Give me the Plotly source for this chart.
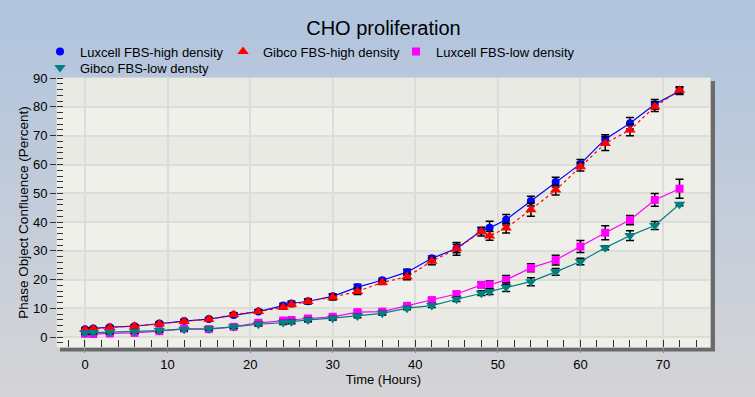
import plotly.graph_objects as go

# ---------------- data ----------------
hours = [0, 1, 3, 6, 9, 12, 15, 18, 21, 24, 25, 27, 30, 33, 36, 39, 42, 45,
         48, 49, 51, 54, 57, 60, 63, 66, 69, 72]

lux_high = [2.8, 3.0, 3.5, 3.8, 4.8, 5.6, 6.3, 7.7, 8.9, 11.0, 11.7, 12.5, 14.2,
            17.4, 19.8, 22.6, 27.4, 30.8, 37.0, 38.0, 40.8, 47.3, 53.9, 60.2,
            68.8, 74.3, 80.9, 85.5]
lux_high_err = [0.4, 0.4, 0.4, 0.4, 0.5, 0.5, 0.5, 0.6, 0.6, 0.7, 0.8, 0.8, 0.8,
                1.0, 0.6, 1.0, 0.8, 1.5, 1.0, 2.3, 1.8, 1.7, 1.7, 1.5, 1.5,
                2.0, 1.7, 1.2]

gib_high = [2.7, 2.9, 3.4, 3.8, 4.6, 5.5, 6.2, 7.9, 8.9, 10.4, 11.4, 12.4, 13.9,
            15.9, 19.0, 21.0, 26.4, 30.7, 36.7, 35.2, 37.9, 44.3, 51.1, 59.2,
            67.3, 72.0, 80.1, 85.8]
gib_high_err = [0.4, 0.4, 0.4, 0.5, 0.5, 0.6, 0.5, 0.6, 0.6, 0.6, 0.7, 0.8, 1.0,
                1.1, 0.7, 1.0, 1.2, 2.2, 1.5, 1.5, 1.7, 2.3, 1.7, 1.5, 2.4,
                2.0, 1.7, 1.2]

lux_low = [1.2, 1.1, 1.3, 1.5, 2.1, 3.0, 2.8, 3.6, 5.0, 5.8, 6.0, 6.5, 7.1,
           8.7, 8.9, 10.9, 12.9, 15.0, 18.2, 18.2, 19.9, 24.1, 26.8, 31.5,
           36.3, 40.7, 47.7, 51.6]
lux_low_err = [0.4, 0.4, 0.4, 0.4, 0.4, 0.4, 0.4, 0.4, 0.5, 0.5, 0.5, 0.5, 0.5,
               0.6, 0.6, 0.6, 0.7, 0.7, 1.0, 1.3, 1.5, 1.4, 1.7, 2.1, 2.4,
               1.6, 2.2, 3.3]

gib_low = [1.5, 1.6, 1.7, 1.9, 2.3, 2.8, 2.9, 3.6, 4.5, 5.1, 5.4, 6.0, 6.6,
           7.4, 8.3, 10.1, 11.0, 13.2, 15.3, 15.8, 17.4, 19.3, 22.7, 26.3,
           31.1, 35.3, 38.8, 46.2]
gib_low_err = [0.5, 0.5, 0.5, 0.5, 0.5, 0.5, 0.5, 0.5, 0.6, 0.7, 0.7, 0.6, 0.6,
               0.6, 0.6, 0.6, 0.7, 0.8, 0.8, 1.0, 1.5, 1.4, 1.2, 1.1, 0.7,
               1.7, 1.4, 0.5]

series_names = ["Luxcell FBS-high density", "Gibco FBS-high density",
                "Luxcell FBS-low density", "Gibco FBS-low densty"]

# ---------------- geometry ----------------
W, H = 755, 397
L, R, T, B = 57, 45, 78, 50
PW, PH = W - L - R, H - T - B


def px2x(px):
    return (px - L) / PW


def px2y(py):
    return (H - B - py) / PH


FONT = "Liberation Sans, Arial, sans-serif"

fig = go.Figure()

styles = [
    dict(color="#0000FF", symbol="circle", size=8, dash="solid"),
    dict(color="#FF0000", symbol="triangle-up", size=10, dash="dot"),
    dict(color="#FF00FF", symbol="square", size=8, dash="solid"),
    dict(color="#008080", symbol="triangle-down", size=10, dash="solid"),
]
values = [lux_high, gib_high, lux_low, gib_low]
errors = [lux_high_err, gib_high_err, lux_low_err, gib_low_err]

for name, st, v, e in zip(series_names, styles, values, errors):
    fig.add_trace(go.Scatter(
        x=hours, y=v, mode="lines+markers", name=name, showlegend=False,
        line=dict(color=st["color"], width=1.2, dash=st["dash"]),
        marker=dict(color=st["color"], symbol=st["symbol"], size=st["size"]),
        error_y=dict(type="data", array=e, visible=True, color="black",
                     thickness=1.5, width=4),
    ))

# legend entries (markers only), each in its own legend for placement
legend_ids = ["legend", "legend2", "legend3", "legend4"]
legend_pos = [(40, 51.5), (223, 51.5), (396, 51.5), (40, 67.5)]
for name, st, lid in zip(series_names, styles, legend_ids):
    fig.add_trace(go.Scatter(
        x=[None], y=[None], mode="markers", name=name, legend=lid,
        marker=dict(color=st["color"], symbol=st["symbol"], size=st["size"]),
    ))

legend_layout = {}
for lid, (lx, ly) in zip(legend_ids, legend_pos):
    legend_layout[lid] = dict(
        x=px2x(lx), y=px2y(ly), xanchor="left", yanchor="middle",
        bgcolor="rgba(0,0,0,0)", borderwidth=0,
        font=dict(family=FONT, size=13, color="black"),
        itemclick=False, itemdoubleclick=False,
    )

# ---------------- background shapes ----------------
shapes = []
# figure gradient
top_c = (176, 196, 222)
bot_c = (212, 212, 214)
NB = 50
for i in range(NB):
    f = i / (NB - 1)
    c = tuple(round(top_c[k] + (bot_c[k] - top_c[k]) * f) for k in range(3))
    py0 = H * i / NB
    py1 = H * (i + 1) / NB + 1
    shapes.append(dict(type="rect", xref="paper", yref="paper",
                       x0=px2x(0), x1=px2x(W), y0=px2y(py1), y1=px2y(py0),
                       fillcolor="rgb(%d,%d,%d)" % c, line=dict(width=0),
                       layer="below"))

# plot area shadow
shapes.append(dict(type="rect", xref="paper", yref="paper",
                   x0=px2x(L + 3), x1=px2x(L + PW + 5), y0=px2y(H - B + 4.5),
                   y1=px2y(T + 3), fillcolor="#6B6B6E", line=dict(width=0),
                   layer="below"))
# plot area base
shapes.append(dict(type="rect", xref="paper", yref="paper",
                   x0=0, x1=1, y0=0, y1=1, fillcolor="#F0F0EB",
                   line=dict(color="#DADAD6", width=1.5), layer="below"))
# alternating bands
band_edges = [-3.4, 0, 10, 20, 30, 40, 50, 60, 70, 80, 90.05]
for i in range(len(band_edges) - 1):
    col = "#F0F0EB" if i % 2 == 0 else "#EAEAE4"
    shapes.append(dict(type="rect", xref="paper", yref="y",
                       x0=0, x1=1, y0=band_edges[i], y1=band_edges[i + 1],
                       fillcolor=col, line=dict(width=0), layer="below"))

fig.update_layout(
    width=W, height=H,
    margin=dict(l=L, r=R, t=T, b=B, autoexpand=False),
    paper_bgcolor="#C4CCD8",
    plot_bgcolor="rgba(0,0,0,0)",
    title=dict(text="CHO proliferation", x=0.5, xref="paper", y=1 - 28 / H,
               yanchor="middle", xanchor="center",
               font=dict(family=FONT, size=20, color="black")),
    font=dict(family=FONT, size=13, color="black"),
    shapes=shapes,
    **legend_layout,
)

fig.update_xaxes(
    range=[-3.39, 75.69], dtick=10, tick0=0,
    showgrid=True, gridcolor="#DCDCD8", gridwidth=1.5,
    zeroline=False, showline=False,
    ticks="outside", ticklen=5, tickcolor="#8A8A8A", tickwidth=1,
    tickfont=dict(family=FONT, size=13, color="black"),
    minor=dict(dtick=2, tick0=0, ticks="inside", ticklen=7,
               tickcolor="#333333", tickwidth=1, showgrid=False),
    title=dict(text="Time (Hours)", standoff=3,
               font=dict(family=FONT, size=13, color="black")),
)
fig.update_yaxes(
    range=[-3.4, 90.05], dtick=10, tick0=0,
    showgrid=True, gridcolor="#DCDCD8", gridwidth=1.5,
    zeroline=False, showline=False,
    ticks="outside", ticklen=6, tickcolor="#333333", tickwidth=1,
    tickfont=dict(family=FONT, size=13, color="black"),
    minor=dict(dtick=2, tick0=0, ticks="inside", ticklen=6,
               tickcolor="#333333", tickwidth=1, showgrid=False),
    title=dict(text="Phase Object Confluence (Percent)", standoff=1,
               font=dict(family=FONT, size=13.5, color="black")),
)

fig.write_html("out.html",
               config={"displayModeBar": False},
               post_script="document.body.style.margin='0px';"
                           "document.body.style.overflow='hidden';")
